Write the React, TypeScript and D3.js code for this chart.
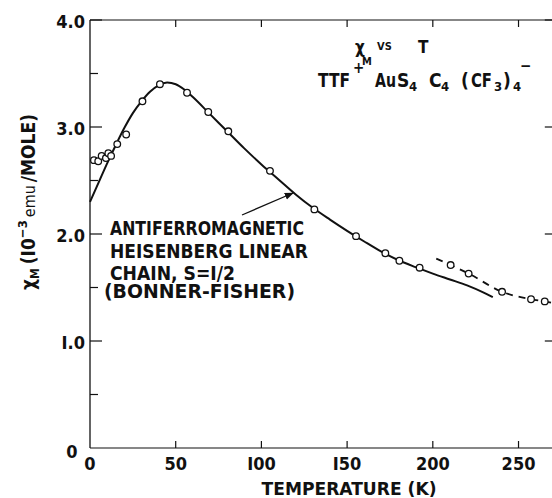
import React from "react";
import * as d3 from "d3";

// Measured susceptibility (10^-3 emu/mole) vs temperature (K)
const measuredT = [2.3, 4.8, 6.8, 9.3, 10.7, 12.3, 15.9, 21.1, 30.6, 40.8, 56.6, 69.0, 80.7, 105.0, 130.9, 155.2, 172.3, 180.5, 192.3];
const measuredChi = [2.69, 2.68, 2.73, 2.71, 2.755, 2.73, 2.84, 2.93, 3.24, 3.40, 3.32, 3.14, 2.96, 2.59, 2.23, 1.98, 1.82, 1.75, 1.685];

// High-temperature points (dashed branch)
const highT = [210.4, 220.9, 240.4, 257.3, 265.3];
const highChi = [1.71, 1.63, 1.46, 1.39, 1.37];

// Dashed guide line through high-T points
const dashT = [202, 210.4, 220.9, 240.4, 257.3, 265.3, 272];
const dashChi = [1.77, 1.71, 1.63, 1.46, 1.39, 1.37, 1.35];

// Bonner-Fisher theory curve
const theoryT = [0, 5, 10, 15, 20, 25, 30, 35, 40, 45, 50, 55, 60, 70, 80, 90, 100, 110, 120, 130, 140, 150, 160, 170, 180, 190, 200, 210, 220, 230, 235];
const theoryChi = [2.3, 2.48, 2.66, 2.83, 2.99, 3.13, 3.24, 3.33, 3.39, 3.415, 3.4, 3.35, 3.28, 3.12, 2.96, 2.8, 2.65, 2.51, 2.37, 2.245, 2.135, 2.03, 1.93, 1.835, 1.755, 1.69, 1.63, 1.575, 1.52, 1.45, 1.41];

const xTicks = [0, 50, 100, 150, 200, 250];
const xTickLabels = ["0", "50", "I00", "I50", "200", "250"];
const yMajor = [1, 2, 3, 4];
const yMajorLabels = ["I.0", "2.0", "3.0", "4.0"];
const yMinor = [0.5, 1.5, 2.5, 3.5];

const noteLines = ["ANTIFERROMAGNETIC", "HEISENBERG LINEAR", "CHAIN, S=I/2", "(BONNER-FISHER)"];

const FONT = "'DejaVu Sans Condensed', 'DejaVu Sans', sans-serif";

export default function App() {
  const x = d3.scaleLinear().domain([0, 270]).range([90, 552.8]);
  const y = d3.scaleLinear().domain([0, 4]).range([448, 20]);

  const theoryLine = d3
    .line<number>()
    .x((_, i) => x(theoryT[i]))
    .y((d) => y(d))
    .curve(d3.curveMonotoneX)(theoryChi) as string;

  const dashLine = d3
    .line<number>()
    .x((_, i) => x(dashT[i]))
    .y((d) => y(d))
    .curve(d3.curveMonotoneX)(dashChi) as string;

  const ink = "#111";
  const noteX = [110, 110, 110, 104];
  const noteY = [235, 257.5, 280, 298];
  const noteW = [194, 198, 125, 191];

  return (
    <svg width={552} height={498} style={{ position: "absolute", left: 0, top: 0, background: "#fff" }} fontFamily={FONT}>
      <defs>
        <marker id="ah" viewBox="0 0 10 10" refX="9" refY="5" markerWidth="7" markerHeight="7" orient="auto">
          <path d="M0,1 L10,5 L0,9 z" fill={ink} />
        </marker>
      </defs>
      <rect x={0} y={0} width={552} height={498} fill="#fff" />

      {/* frame */}
      <line x1={x(0)} y1={y(0)} x2={x(0)} y2={y(4)} stroke={ink} strokeWidth={1.3} />
      <line x1={x(0)} y1={y(0)} x2={x(270)} y2={y(0)} stroke={ink} strokeWidth={1.2} />
      <line x1={x(0)} y1={y(4)} x2={x(270)} y2={y(4)} stroke={ink} strokeWidth={1.2} />
      <line x1={x(270)} y1={y(0)} x2={x(270)} y2={y(4)} stroke={ink} strokeWidth={1.2} />

      {/* y ticks */}
      {yMajor.map((v) => (
        <g key={"ym" + v}>
          <line x1={x(0)} x2={x(0) + 12} y1={y(v)} y2={y(v)} stroke={ink} strokeWidth={1.2} />
          <line x1={x(270)} x2={x(270) - 8} y1={y(v)} y2={y(v)} stroke={ink} strokeWidth={1.2} />
        </g>
      ))}
      {yMinor.map((v) => (
        <line key={"yn" + v} x1={x(0)} x2={x(0) + 8} y1={y(v)} y2={y(v)} stroke={ink} strokeWidth={1.2} />
      ))}
      {yMajor.map((v, i) => (
        <text key={"yl" + v} x={85} y={y(v) + 7.5} textAnchor="end" fontSize={18} fontWeight="bold" fill={ink}>
          {yMajorLabels[i]}
        </text>
      ))}
      <text x={72} y={458} textAnchor="middle" fontSize={18} fontWeight="bold" fill={ink}>0</text>

      {/* x ticks */}
      {xTicks.slice(1).map((v) => (
        <g key={"xt" + v}>
          <line x1={x(v)} x2={x(v)} y1={y(0)} y2={y(0) - 7} stroke={ink} strokeWidth={1.2} />
          <line x1={x(v)} x2={x(v)} y1={y(4)} y2={y(4) + 7} stroke={ink} strokeWidth={1.2} />
        </g>
      ))}
      {xTicks.map((v, i) => (
        <text key={"xl" + v} x={x(v)} y={470} textAnchor="middle" fontSize={18} fontWeight="bold" fill={ink}>
          {xTickLabels[i]}
        </text>
      ))}

      {/* axis titles */}
      <text x={349} y={494.5} textAnchor="middle" fontSize={18} fontWeight="bold" fill={ink} textLength={175} lengthAdjust="spacingAndGlyphs">
        TEMPERATURE (K)
      </text>
      <text transform="translate(35,290) rotate(-90)" fontSize={19} fontWeight="bold" fill={ink}>
        <tspan>χ</tspan>
        <tspan fontSize={12} dy={4}>M</tspan>
        <tspan dy={-4} dx={4}>(</tspan>
        <tspan>I0</tspan>
        <tspan fontSize={13} dy={-8}>−3</tspan>
        <tspan fontSize={16} dy={8} dx={3} fontWeight="normal">emu</tspan>
        <tspan dx={3}>/</tspan>
        <tspan>MOLE)</tspan>
      </text>

      {/* theory curve */}
      <path d={theoryLine} fill="none" stroke={ink} strokeWidth={2} />
      <path d={dashLine} fill="none" stroke={ink} strokeWidth={1.8} strokeDasharray="7 6" />

      {/* data points */}
      {measuredChi.map((v, i) => (
        <circle key={"m" + i} cx={x(measuredT[i])} cy={y(v)} r={3.3} fill="#fff" stroke={ink} strokeWidth={1.3} />
      ))}
      {highChi.map((v, i) => (
        <circle key={"h" + i} cx={x(highT[i])} cy={y(v)} r={3.3} fill="#fff" stroke={ink} strokeWidth={1.3} />
      ))}

      {/* annotation */}
      {noteLines.map((s, i) => (
        <text key={"n" + i} x={noteX[i]} y={noteY[i]} fontSize={19} fontWeight="bold" fill={ink} textLength={noteW[i]} lengthAdjust="spacingAndGlyphs">
          {s}
        </text>
      ))}
      <line x1={242} y1={215} x2={293} y2={193} stroke={ink} strokeWidth={1.3} markerEnd="url(#ah)" />

      {/* title texts */}
      <g fontWeight="bold" fill={ink}>
        <text x={355} y={53} fontSize={17}>χ</text>
        <text x={362} y={65} fontSize={11}>M</text>
        <text x={377} y={50} fontSize={11}>VS</text>
        <text x={418} y={53} fontSize={17}>T</text>

        <text x={318} y={87} fontSize={19} textLength={32} lengthAdjust="spacingAndGlyphs">TTF</text>
        <text x={353} y={73} fontSize={15}>+</text>
        <text x={375} y={87} fontSize={19} textLength={21} lengthAdjust="spacingAndGlyphs">Au</text>
        <text x={397} y={87} fontSize={19}>S</text>
        <text x={409} y={91} fontSize={13}>4</text>
        <text x={429} y={87} fontSize={19}>C</text>
        <text x={441} y={91} fontSize={13}>4</text>
        <text x={461} y={87} fontSize={19}>(</text>
        <text x={471} y={87} fontSize={19} textLength={21} lengthAdjust="spacingAndGlyphs">CF</text>
        <text x={494} y={91} fontSize={13}>3</text>
        <text x={503} y={87} fontSize={19}>)</text>
        <text x={513} y={91} fontSize={13}>4</text>
        <text x={520} y={71} fontSize={15}>−</text>
      </g>
    </svg>
  );
}
